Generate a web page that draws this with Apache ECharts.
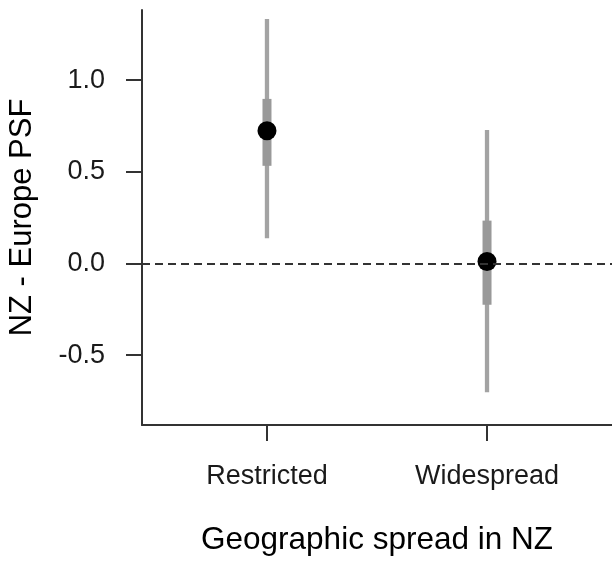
<!DOCTYPE html>
<html>
<head>
<meta charset="utf-8">
<script src="https://cdn.jsdelivr.net/npm/echarts@6/dist/echarts.min.js"></script>
<style>
  html, body { margin: 0; padding: 0; background: #fff; }
  #main { width: 612px; height: 562px; }
</style>
</head>
<body>
<div id="main"></div>
<script>
  // data
  const categories = ['Restricted', 'Widespread']
  const xPos = [1, 2]
  const means = [0.724, 0.011]
  const innerLow = [0.533, -0.225]
  const innerHigh = [0.898, 0.234]
  const outerLow = [0.138, -0.703]
  const outerHigh = [1.334, 0.729]
  const yTicks = [-0.5, 0, 0.5, 1.0]

  const FONT = '"Liberation Sans", Arial, sans-serif'

  const chart = echarts.init(document.getElementById('main'))

  // vertical interval lines, drawn through the axes
  function renderInterval (params, api) {
    const i = params.dataIndex
    const x = api.value(0)
    const o1 = api.coord([x, outerLow[i]])
    const o2 = api.coord([x, outerHigh[i]])
    const i1 = api.coord([x, innerLow[i]])
    const i2 = api.coord([x, innerHigh[i]])
    return {
      type: 'group',
      children: [
        {
          type: 'line',
          shape: { x1: o1[0], y1: o1[1], x2: o2[0], y2: o2[1] },
          style: { stroke: '#a3a3a3', lineWidth: 4.3 }
        },
        {
          type: 'line',
          shape: { x1: i1[0], y1: i1[1], x2: i2[0], y2: i2[1] },
          style: { stroke: '#999999', lineWidth: 9 }
        }
      ]
    }
  }

  chart.setOption({
    animation: false,
    grid: {
      left: 142,
      right: 0,
      top: 10,
      bottom: 137,
      containLabel: false,
      outerBoundsMode: 'none'
    },
    xAxis: {
      type: 'value',
      min: 0.432,
      max: 2.568,
      name: 'Geographic spread in NZ',
      nameLocation: 'middle',
      nameGap: 99,
      nameTextStyle: { fontFamily: FONT, fontSize: 31.5, color: '#000' },
      axisLine: { show: true, onZero: false, lineStyle: { color: '#333', width: 2 } },
      axisTick: { show: true, length: 16, customValues: xPos, lineStyle: { color: '#333', width: 2 } },
      axisLabel: {
        customValues: xPos,
        margin: 38,
        fontFamily: FONT,
        fontSize: 27,
        color: '#1a1a1a',
        formatter: v => categories[xPos.indexOf(v)] || ''
      },
      splitLine: { show: false }
    },
    yAxis: {
      type: 'value',
      min: -0.881,
      max: 1.383,
      name: 'NZ - Europe PSF',
      nameLocation: 'middle',
      nameGap: 104,
      nameTextStyle: { fontFamily: FONT, fontSize: 31, color: '#000' },
      axisLine: { show: true, onZero: false, lineStyle: { color: '#333', width: 2 } },
      axisTick: { show: true, length: 16, customValues: yTicks, lineStyle: { color: '#333', width: 2 } },
      axisLabel: {
        customValues: yTicks,
        margin: 37,
        fontFamily: FONT,
        fontSize: 27,
        color: '#1a1a1a',
        formatter: v => v.toFixed(1)
      },
      splitLine: { show: false }
    },
    series: [
      {
        type: 'custom',
        renderItem: renderInterval,
        data: xPos.map((x, i) => [x, means[i]]),
        z: 2,
        markLine: {
          silent: true,
          symbol: 'none',
          label: { show: false },
          lineStyle: { color: '#333', width: 2, type: [8, 5] },
          data: [{ yAxis: 0 }]
        }
      },
      {
        type: 'scatter',
        symbol: 'circle',
        symbolSize: 19,
        itemStyle: { color: '#000', opacity: 1 },
        data: xPos.map((x, i) => [x, means[i]]),
        z: 3
      }
    ]
  })
</script>
</body>
</html>
